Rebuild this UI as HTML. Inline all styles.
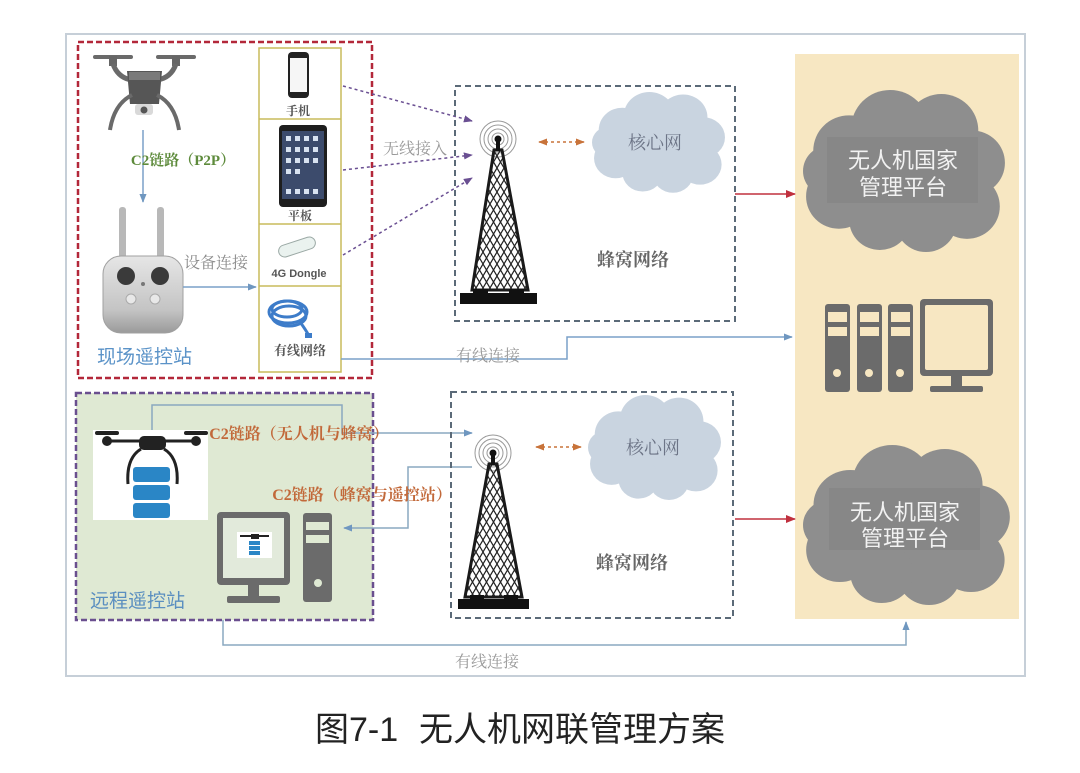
<!DOCTYPE html>
<html><head><meta charset="utf-8"><style>
html,body{margin:0;padding:0;background:#fff;}
svg{display:block;}
.s{font-family:"Liberation Serif","Noto Serif CJK SC",serif;}
.n{font-family:"Liberation Sans","Noto Sans CJK SC",sans-serif;}
</style></head><body>
<svg width="1080" height="773" viewBox="0 0 1080 773" xmlns="http://www.w3.org/2000/svg">
<defs>
<marker id="ab" viewBox="0 0 10 10" refX="9" refY="5" markerUnits="userSpaceOnUse" markerWidth="9" markerHeight="9" orient="auto-start-reverse"><path d="M0 1L10 5L0 9z" fill="#6f97c0"/></marker>
<marker id="ar" viewBox="0 0 10 10" refX="9" refY="5" markerUnits="userSpaceOnUse" markerWidth="10" markerHeight="10" orient="auto-start-reverse"><path d="M0 1L10 5L0 9z" fill="#c0303e"/></marker>
<marker id="ap" viewBox="0 0 10 10" refX="9" refY="5" markerUnits="userSpaceOnUse" markerWidth="9" markerHeight="9" orient="auto-start-reverse"><path d="M0 1L10 5L0 9z" fill="#6a4f92"/></marker>
<marker id="ao" viewBox="0 0 10 10" refX="9" refY="5" markerUnits="userSpaceOnUse" markerWidth="9" markerHeight="9" orient="auto-start-reverse"><path d="M0 1L10 5L0 9z" fill="#c8733a"/></marker>
<pattern id="lat" width="7" height="12" patternUnits="userSpaceOnUse"><path d="M0 0L7 12M7 0L0 12" stroke="#222" stroke-width="1.2"/></pattern>
<linearGradient id="ctl" x1="0" y1="0" x2="0" y2="1"><stop offset="0" stop-color="#e6e6e6"/><stop offset="0.7" stop-color="#c4c4c4"/><stop offset="1" stop-color="#9a9a9a"/></linearGradient>
<g id="cloud">
<ellipse cx="100" cy="80" rx="80" ry="60"/>
<circle cx="45" cy="60" r="35"/><circle cx="85" cy="38" r="38"/><circle cx="135" cy="40" r="36"/>
<circle cx="165" cy="72" r="32"/><circle cx="160" cy="115" r="32"/><circle cx="120" cy="130" r="30"/>
<circle cx="75" cy="128" r="30"/><circle cx="35" cy="105" r="32"/><circle cx="25" cy="80" r="25"/>
</g>
</defs>

<!-- outer frame -->
<rect x="66" y="34" width="959" height="642" fill="#fff" stroke="#c6cfd8" stroke-width="2"/>

<!-- yellow panel -->
<rect x="795" y="54" width="224" height="565" fill="#f7e7c2"/>

<!-- red dashed box -->
<rect x="78" y="42" width="294" height="336" fill="none" stroke="#b3283a" stroke-width="2.5" stroke-dasharray="6 3"/>

<!-- device column -->
<rect x="259" y="48" width="82" height="324" fill="#fff" stroke="#c9bb5c" stroke-width="1.5"/>
<line x1="259" y1="119" x2="341" y2="119" stroke="#c9bb5c" stroke-width="1.5"/>
<line x1="259" y1="224" x2="341" y2="224" stroke="#c9bb5c" stroke-width="1.5"/>
<line x1="259" y1="286" x2="341" y2="286" stroke="#c9bb5c" stroke-width="1.5"/>

<!-- phone -->
<rect x="288" y="52" width="21" height="46" rx="4" fill="#222"/>
<rect x="290" y="58" width="17" height="34" fill="#f6f6f6"/>
<text x="298" y="115" class="s" font-size="12" font-weight="bold" fill="#555" text-anchor="middle">手机</text>
<!-- tablet -->
<rect x="279" y="125" width="48" height="82" rx="4" fill="#1e1e1e"/>
<rect x="282" y="131" width="42" height="68" fill="#3c4b6c"/>
<g fill="#d8e2f0">
<rect x="286" y="136" width="5" height="5"/><rect x="295" y="136" width="5" height="5"/><rect x="304" y="136" width="5" height="5"/><rect x="313" y="136" width="5" height="5"/>
<rect x="286" y="147" width="5" height="5"/><rect x="295" y="147" width="5" height="5"/><rect x="304" y="147" width="5" height="5"/><rect x="313" y="147" width="5" height="5"/>
<rect x="286" y="158" width="5" height="5"/><rect x="295" y="158" width="5" height="5"/><rect x="304" y="158" width="5" height="5"/><rect x="313" y="158" width="5" height="5"/>
<rect x="286" y="169" width="5" height="5"/><rect x="295" y="169" width="5" height="5"/>
<rect x="286" y="189" width="5" height="5"/><rect x="295" y="189" width="5" height="5"/><rect x="304" y="189" width="5" height="5"/><rect x="313" y="189" width="5" height="5"/>
</g>
<text x="300" y="220" class="s" font-size="12" font-weight="bold" fill="#555" text-anchor="middle">平板</text>
<!-- dongle -->
<g transform="rotate(-18 297 247)"><rect x="278" y="241" width="38" height="12" rx="6" fill="#eaf2ef" stroke="#9aa8a4"/></g>
<text x="299" y="277" class="n" font-size="11" font-weight="bold" fill="#555" text-anchor="middle">4G Dongle</text>
<!-- cable -->
<g fill="none" stroke="#3d7cc9" stroke-width="3">
<ellipse cx="288" cy="312" rx="19" ry="11"/>
<ellipse cx="289" cy="316" rx="17" ry="10"/>
<ellipse cx="287" cy="309" rx="15" ry="8"/>
<path d="M300 322 Q306 330 309 336"/>
</g>
<rect x="305" y="333" width="7" height="5" fill="#3d7cc9"/>
<text x="300" y="355" class="s" font-size="13" font-weight="bold" fill="#555" text-anchor="middle">有线网络</text>

<!-- upper drone -->
<rect x="93" y="55" width="40" height="4" rx="2" fill="#6a6a6a"/>
<rect x="156" y="55" width="40" height="4" rx="2" fill="#6a6a6a"/>
<rect x="109" y="56" width="8" height="10" fill="#666"/>
<rect x="172" y="56" width="8" height="10" fill="#666"/>
<path d="M113 64 Q118 78 132 80 M176 64 Q171 78 157 80" fill="none" stroke="#6a6a6a" stroke-width="5"/>
<path d="M127 71 H162 L159 104 H130 Z" fill="#565656"/>
<rect x="129" y="72" width="31" height="8" fill="#7a7a7a"/>
<path d="M132 95 Q114 104 110 130 M157 95 Q175 104 179 130" fill="none" stroke="#6a6a6a" stroke-width="4"/>
<rect x="135" y="104" width="18" height="11" rx="3" fill="#d9d9d9"/>
<circle cx="144" cy="110" r="3.5" fill="#555"/>
<line x1="143" y1="130" x2="143" y2="202" stroke="#7aa0c8" stroke-width="1.5" marker-end="url(#ab)"/>
<text x="183" y="165" class="s" font-size="15" font-weight="bold" fill="#5e8b3c" text-anchor="middle">C2链路（P2P）</text>

<!-- controller -->
<rect x="119" y="207" width="7" height="55" rx="3" fill="#b8b8b8"/>
<rect x="157" y="207" width="7" height="55" rx="3" fill="#b8b8b8"/>
<rect x="103" y="256" width="80" height="77" rx="18" fill="url(#ctl)" stroke="#a0a0a0"/>
<circle cx="126" cy="276" r="9" fill="#3a3a3a"/>
<circle cx="160" cy="276" r="9" fill="#3a3a3a"/>
<circle cx="131" cy="299" r="5" fill="#e8e8e8" stroke="#aaa"/>
<circle cx="155" cy="299" r="5" fill="#e8e8e8" stroke="#aaa"/>
<circle cx="143" cy="284" r="2" fill="#777"/>
<text x="216" y="268" class="s" font-size="16" fill="#8a8a8a" text-anchor="middle">设备连接</text>
<line x1="183" y1="287" x2="256" y2="287" stroke="#7aa0c8" stroke-width="1.5" marker-end="url(#ab)"/>
<text x="97" y="363" class="n" font-size="19" fill="#5b93c8">现场遥控站</text>

<!-- purple dotted wireless -->
<g stroke="#6a4f92" stroke-width="1.5" stroke-dasharray="3 3" fill="none">
<line x1="343" y1="86" x2="472" y2="121" marker-end="url(#ap)"/>
<line x1="343" y1="170" x2="472" y2="155" marker-end="url(#ap)"/>
<line x1="343" y1="255" x2="472" y2="178" marker-end="url(#ap)"/>
</g>
<text x="415" y="154" class="s" font-size="16" fill="#999" text-anchor="middle">无线接入</text>

<!-- upper cellular box -->
<rect x="455" y="86" width="280" height="235" fill="none" stroke="#5b6a78" stroke-width="2" stroke-dasharray="6 4"/>
<g fill="none" stroke="#999" stroke-width="1">
<circle cx="498" cy="139" r="6"/><circle cx="498" cy="139" r="10"/><circle cx="498" cy="139" r="14"/><circle cx="498" cy="139" r="18"/>
</g>
<polygon points="494,150 502,150 528,290 472,290" fill="url(#lat)" stroke="#1a1a1a" stroke-width="3"/>
<rect x="496" y="140" width="4" height="11" fill="#111"/>
<circle cx="498" cy="139" r="3.5" fill="#111"/>
<path d="M460 293 H473 V289 H488 V293 H509 V289 H524 V293 H537 V304 H460 Z" fill="#111"/>
<line x1="539" y1="142" x2="584" y2="142" stroke="#c8733a" stroke-width="1.5" stroke-dasharray="3 3" marker-start="url(#ao)" marker-end="url(#ao)"/>
<use href="#cloud" fill="#c9d4e0" transform="translate(592 92) scale(0.675 0.63)"/>
<text x="655" y="149" class="s" font-size="18" fill="#6c7486" text-anchor="middle">核心网</text>
<text x="633" y="266" class="s" font-size="18" font-weight="bold" fill="#666" text-anchor="middle">蜂窝网络</text>
<line x1="735" y1="194" x2="795" y2="194" stroke="#c0303e" stroke-width="1.5" marker-end="url(#ar)"/>

<!-- upper wired -->
<polyline points="341,359 567,359 567,337 792,337" fill="none" stroke="#7aa0c8" stroke-width="1.5" marker-end="url(#ab)"/>
<text x="488" y="361" class="s" font-size="16" fill="#999" text-anchor="middle">有线连接</text>

<!-- right panel upper cloud -->
<use href="#cloud" fill="#8e8e8e" transform="translate(803 90) scale(1.025 1.0125)"/>
<rect x="827" y="137" width="151" height="66" fill="#878787"/>
<text x="903" y="168" class="n" font-size="22" fill="#f2f2f2" text-anchor="middle">无人机国家</text>
<text x="903" y="195" class="n" font-size="22" fill="#f2f2f2" text-anchor="middle">管理平台</text>

<!-- servers -->
<g fill="#6b6b6b">
<rect x="825" y="304" width="25" height="88" rx="3"/>
<rect x="857" y="304" width="25" height="88" rx="3"/>
<rect x="888" y="304" width="25" height="88" rx="3"/>
<rect x="920" y="299" width="73" height="77" rx="4"/>
<rect x="951" y="376" width="11" height="11"/>
<rect x="930" y="386" width="53" height="6" rx="2"/>
</g>
<g fill="#f7e7c2">
<rect x="828" y="312" width="19" height="10"/><rect x="828" y="327" width="19" height="9"/>
<rect x="860" y="312" width="19" height="10"/><rect x="860" y="327" width="19" height="9"/>
<rect x="891" y="312" width="19" height="10"/><rect x="891" y="327" width="19" height="9"/>
<circle cx="837" cy="373" r="4"/><circle cx="869" cy="373" r="4"/><circle cx="900" cy="373" r="4"/>
<rect x="925" y="305" width="63" height="65" rx="2"/>
</g>

<!-- green remote station box -->
<rect x="76" y="393" width="297" height="227" fill="#dfe9d3" stroke="#6a4f8f" stroke-width="2.5" stroke-dasharray="6 3"/>
<!-- lower drone -->
<rect x="93" y="430" width="115" height="90" fill="#fff"/>
<rect x="95" y="431" width="24" height="4" rx="2" fill="#222"/>
<rect x="184" y="431" width="24" height="4" rx="2" fill="#222"/>
<circle cx="107" cy="441" r="5" fill="#222"/><circle cx="196" cy="441" r="5" fill="#222"/>
<line x1="107" y1="441" x2="196" y2="441" stroke="#222" stroke-width="3"/>
<rect x="139" y="436" width="27" height="14" rx="5" fill="#222"/>
<path d="M141 449 Q126 458 128 484 M164 449 Q179 458 177 484" fill="none" stroke="#222" stroke-width="3"/>
<rect x="133" y="467" width="37" height="15" rx="3" fill="#2a86c6"/>
<rect x="133" y="485" width="37" height="15" rx="3" fill="#2a86c6"/>
<rect x="133" y="503" width="37" height="15" rx="3" fill="#2a86c6"/>
<!-- computer -->
<rect x="217" y="512" width="73" height="73" rx="4" fill="#6b6b6b"/>
<rect x="223" y="518" width="61" height="60" fill="#e2eadb"/>
<rect x="237" y="532" width="35" height="26" fill="#fff"/>
<line x1="240" y1="536" x2="269" y2="536" stroke="#222" stroke-width="2"/>
<rect x="251" y="534" width="8" height="5" fill="#222"/>
<rect x="249" y="541" width="11" height="4" fill="#2a86c6"/><rect x="249" y="546" width="11" height="4" fill="#2a86c6"/><rect x="249" y="551" width="11" height="4" fill="#2a86c6"/>
<rect x="248" y="585" width="11" height="12" fill="#6b6b6b"/>
<rect x="227" y="596" width="53" height="7" rx="2" fill="#6b6b6b"/>
<rect x="303" y="513" width="29" height="89" rx="3" fill="#6b6b6b"/>
<rect x="306" y="522" width="23" height="8" fill="#dfe9d3"/>
<rect x="306" y="535" width="23" height="8" fill="#dfe9d3"/>
<circle cx="318" cy="583" r="4" fill="#dfe9d3"/>
<text x="90" y="607" class="n" font-size="19" fill="#5b8fc0">远程遥控站</text>

<!-- C2 links lower -->
<polyline points="152,430 152,405 342,405 342,433 472,433" fill="none" stroke="#8aa8c0" stroke-width="1.5" marker-end="url(#ab)"/>
<text x="299" y="439" class="s" font-size="16" font-weight="bold" fill="#c2693a" text-anchor="middle">C2链路（无人机与蜂窝）</text>
<polyline points="472,467 408,467 408,528 344,528" fill="none" stroke="#8aa8c0" stroke-width="1.5" marker-end="url(#ab)"/>
<text x="362" y="500" class="s" font-size="16" font-weight="bold" fill="#c2693a" text-anchor="middle">C2链路（蜂窝与遥控站）</text>

<!-- lower cellular box -->
<rect x="451" y="392" width="282" height="226" fill="none" stroke="#5b6a78" stroke-width="2" stroke-dasharray="6 4"/>
<g fill="none" stroke="#999" stroke-width="1">
<circle cx="493" cy="453" r="6"/><circle cx="493" cy="453" r="10"/><circle cx="493" cy="453" r="14"/><circle cx="493" cy="453" r="18"/>
</g>
<polygon points="489,464 497,464 522,597 465,597" fill="url(#lat)" stroke="#1a1a1a" stroke-width="3"/>
<rect x="491" y="454" width="4" height="11" fill="#111"/>
<circle cx="493" cy="453" r="3.5" fill="#111"/>
<path d="M458 599 H470 V595 H484 V599 H504 V595 H518 V599 H529 V609 H458 Z" fill="#111"/>
<line x1="536" y1="447" x2="581" y2="447" stroke="#c8733a" stroke-width="1.5" stroke-dasharray="3 3" marker-start="url(#ao)" marker-end="url(#ao)"/>
<use href="#cloud" fill="#c9d4e0" transform="translate(588 395) scale(0.675 0.656)"/>
<text x="653" y="454" class="s" font-size="18" fill="#6c7486" text-anchor="middle">核心网</text>
<text x="632" y="569" class="s" font-size="18" font-weight="bold" fill="#666" text-anchor="middle">蜂窝网络</text>
<line x1="735" y1="519" x2="795" y2="519" stroke="#c0303e" stroke-width="1.5" marker-end="url(#ar)"/>

<!-- lower platform cloud -->
<use href="#cloud" fill="#8e8e8e" transform="translate(803 445) scale(1.05 1.0)"/>
<rect x="829" y="488" width="151" height="62" fill="#878787"/>
<text x="905" y="520" class="n" font-size="22" fill="#f2f2f2" text-anchor="middle">无人机国家</text>
<text x="905" y="546" class="n" font-size="22" fill="#f2f2f2" text-anchor="middle">管理平台</text>

<!-- bottom wired -->
<polyline points="223,620 223,645 906,645 906,622" fill="none" stroke="#8aa8c0" stroke-width="1.5" marker-end="url(#ab)"/>
<text x="487" y="667" class="s" font-size="16" fill="#999" text-anchor="middle">有线连接</text>

<!-- caption -->
<text x="315" y="741" class="n" font-size="34" fill="#222">图7-1</text>
<text x="419" y="741" class="n" font-size="34" fill="#222">无人机网联管理方案</text>
</svg>
</body></html>
